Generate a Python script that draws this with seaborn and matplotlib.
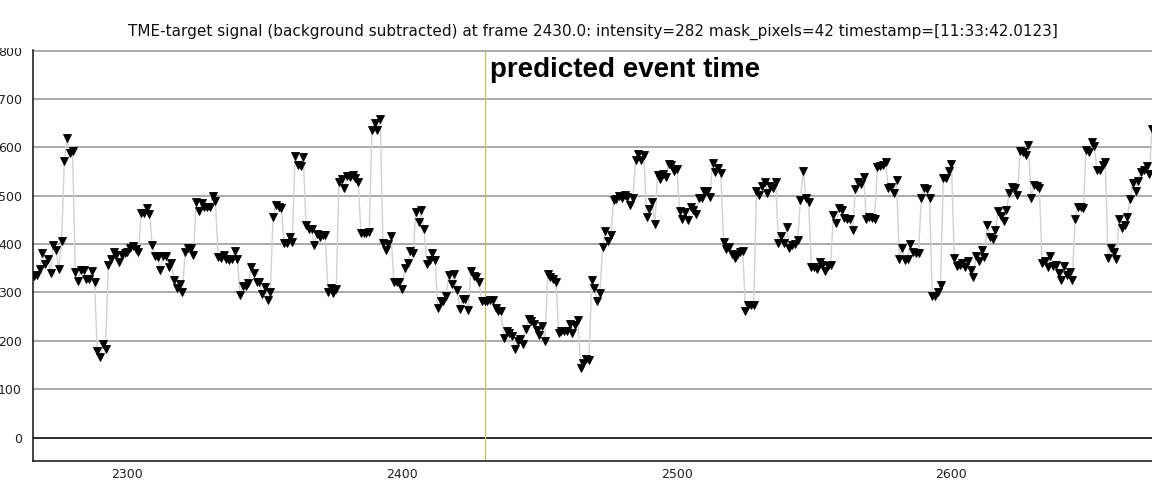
import numpy as np
import pandas as pd
import matplotlib
matplotlib.use("Agg")
import matplotlib.pyplot as plt
import seaborn as sns
from matplotlib.ticker import MultipleLocator, FixedLocator
from matplotlib.transforms import Bbox, TransformedBbox

# ---------------- data ----------------
start_frame = 2266
intensity = [
    334, 336, 348, 381, 358, 369, 341, 399, 388, 348,
    407, 571, 619, 588, 592, 343, 323, 347, 347, 328,
    328, 345, 322, 178, 167, 193, 183, 356, 369, 383,
    377, 363, 378, 381, 384, 393, 396, 390, 383, 465,
    465, 474, 463, 399, 376, 374, 347, 376, 376, 353,
    360, 325, 309, 318, 302, 383, 391, 391, 377, 488,
    469, 486, 477, 477, 477, 500, 490, 374, 372, 377,
    370, 367, 369, 386, 370, 294, 314, 314, 319, 352,
    340, 321, 322, 297, 312, 284, 301, 456, 481, 476,
    474, 403, 403, 414, 405, 583, 563, 562, 581, 439,
    432, 431, 399, 421, 414, 419, 419, 300, 309, 298,
    307, 528, 534, 516, 541, 538, 543, 536, 528, 422,
    422, 423, 426, 636, 650, 636, 659, 403, 388, 400,
    416, 321, 321, 322, 307, 350, 360, 386, 381, 467,
    445, 470, 431, 359, 367, 381, 368, 268, 283, 283,
    292, 336, 317, 338, 305, 265, 286, 286, 263, 345,
    334, 331, 321, 283, 282, 283, 285, 285, 268, 262,
    261, 205, 221, 217, 210, 183, 200, 203, 194, 224,
    245, 240, 234, 222, 212, 231, 200, 338, 331, 328,
    322, 217, 221, 221, 221, 234, 216, 233, 244, 143,
    155, 162, 161, 325, 309, 283, 298, 394, 428, 407,
    419, 491, 493, 500, 495, 501, 498, 481, 495, 574,
    586, 574, 584, 456, 472, 488, 441, 543, 534, 546,
    539, 565, 563, 552, 556, 468, 452, 467, 450, 477,
    470, 463, 495, 496, 510, 509, 498, 568, 550, 557,
    548, 405, 390, 394, 380, 372, 378, 383, 386, 262,
    274, 274, 274, 510, 501, 521, 528, 505, 521, 517,
    528, 403, 417, 403, 436, 393, 399, 401, 408, 491,
    552, 496, 487, 353, 353, 348, 363, 357, 345, 355,
    356, 461, 443, 474, 470, 453, 452, 452, 429, 514,
    528, 525, 539, 452, 456, 454, 452, 559, 561, 564,
    569, 517, 519, 505, 532, 370, 391, 367, 370, 401,
    383, 381, 381, 495, 516, 514, 495, 293, 293, 302,
    316, 536, 536, 552, 565, 372, 355, 356, 360, 352,
    365, 346, 332, 376, 365, 388, 374, 439, 415, 410,
    430, 469, 459, 448, 470, 505, 519, 516, 501, 593,
    590, 585, 605, 496, 523, 521, 516, 360, 365, 353,
    376, 355, 357, 341, 326, 354, 336, 343, 326, 452,
    477, 477, 474, 594, 590, 612, 602, 553, 553, 564,
    569, 372, 393, 383, 370, 452, 434, 440, 456, 493,
    526, 509, 531, 550, 553, 562, 545, 638,
]
frames = np.arange(start_frame, start_frame + len(intensity))

event_frame = 2430
event_label = "predicted event time"
title_text = ("TME-target signal (background subtracted) at frame 2430.0: "
              "intensity=282 mask_pixels=42 timestamp=[11:33:42.0123]")
y_ticks = [0, 100, 200, 300, 400, 500, 600, 700, 800]
x_major_ticks = [2300, 2400, 2500, 2600]

df = pd.DataFrame({"frame": frames, "intensity": intensity})

# ---------------- style ----------------
sns.set_style("white")
plt.rcParams["font.family"] = ["DejaVu Sans"]

W, H = 1152, 495
top_px, bottom_px, left_px = 50.2, 461, 33
fig = plt.figure(figsize=(W / 100, H / 100), dpi=100)
ax = fig.add_axes([left_px / W, (H - bottom_px) / H, 1 - left_px / W,
                   (bottom_px - top_px) / H])

# horizontal grid lines
for yv in y_ticks:
    if yv == 0:
        ax.axhline(yv, color="#1a1a1a", lw=1.3, zorder=0)
    else:
        ax.axhline(yv, color="#a3a3a3", lw=1.3, zorder=0, clip_on=False)

# event marker line
ax.axvline(event_frame, color="#c4c47a", lw=1.0, zorder=1)

sns.lineplot(data=df, x="frame", y="intensity", ax=ax,
             color="#d2d2d2", lw=1.0, marker="v", markersize=5.8,
             markerfacecolor="black", markeredgecolor="black",
             markeredgewidth=0.6, zorder=3, legend=False)

ax.text(event_frame + 2.0, 761, event_label, fontsize=20, fontweight="bold",
        family=["Liberation Sans", "DejaVu Sans"], ha="left", va="center",
        color="black", zorder=5)

ax.set_xlim(2265.6, 2673.0)
ax.set_ylim(-48.5, 801)
ax.set_xlabel("")
ax.set_ylabel("")

ax.xaxis.set_major_locator(FixedLocator(x_major_ticks))
ax.xaxis.set_minor_locator(MultipleLocator(20))
ax.yaxis.set_major_locator(FixedLocator(y_ticks))
ax.set_yticklabels([str(v) for v in y_ticks])
ax.set_xticklabels([str(v) for v in x_major_ticks])

ax.tick_params(axis="x", which="major", direction="in", length=6, width=1,
               color="black", labelsize=9, labelcolor="#222222", pad=5)
ax.tick_params(axis="x", which="minor", direction="in", length=3, width=0.8,
               color="#9a9a9a")
ax.tick_params(axis="y", which="major", direction="in", length=0,
               labelsize=9, labelcolor="#222222", pad=8)

for s in ["left", "bottom"]:
    ax.spines[s].set_visible(True)
    ax.spines[s].set_color("#111111")
    ax.spines[s].set_linewidth(1.1)
ax.spines["top"].set_visible(False)
ax.spines["right"].set_visible(False)

fig.text(0.515, 1 - 32 / H, title_text, ha="center", va="center",
         fontsize=11, color="#111111")

# the top tick label is partly hidden by the plot's upper border
fig.canvas.draw()
clip = TransformedBbox(Bbox([[0, 0], [1, (H - 47.5) / H]]), fig.transFigure)
for lbl in ax.get_yticklabels():
    if lbl.get_text() == "800":
        lbl.set_clip_box(clip)
        lbl.set_clip_on(True)

fig.savefig("out.png", dpi=100)
